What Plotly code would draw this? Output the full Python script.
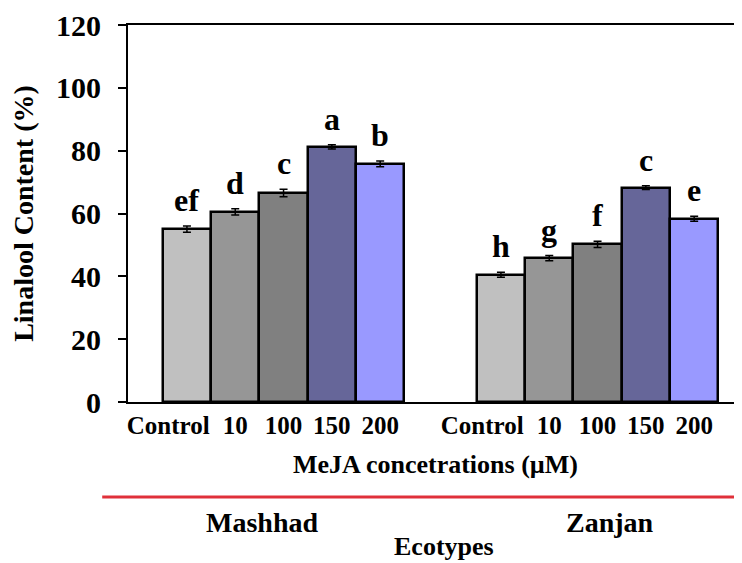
import plotly.graph_objects as go

ecotypes = ["Mashhad", "Zanjan"]
concentrations = ["Control", "10", "100", "150", "200"]
mashhad_values = [55.0, 60.5, 66.5, 81.2, 75.8]
zanjan_values = [40.5, 45.8, 50.2, 68.2, 58.3]
mashhad_err = [1.0, 1.0, 1.2, 0.7, 0.9]
zanjan_err = [0.8, 0.8, 1.0, 0.6, 0.8]
mashhad_letters = ["ef", "d", "c", "a", "b"]
zanjan_letters = ["h", "g", "f", "c", "e"]
bar_colors = ["#C0C0C0", "#969696", "#808080", "#666699", "#9999FF"]
y_ticks = [0, 20, 40, 60, 80, 100, 120]

FONT = "Liberation Serif, Times New Roman, serif"
GROUP_GAP = 6.5

values = [mashhad_values, zanjan_values]
errs = [mashhad_err, zanjan_err]
letters = [mashhad_letters, zanjan_letters]


def tick_label(name):
    # the wide "Control" label sits left of its bar centre in the original
    pad = "\u00a0" * 6 if name == "Control" else ""
    return f"<b>{name}</b>{pad}"


fig = go.Figure()
xs_all, labels_all = [], []
for g in range(len(ecotypes)):
    xs = [g * GROUP_GAP + i for i in range(len(concentrations))]
    xs_all += xs
    labels_all += [tick_label(c) for c in concentrations]
    fig.add_trace(go.Bar(
        x=xs, y=values[g], width=1.0,
        marker=dict(color=bar_colors, line=dict(color="black", width=2.5)),
        error_y=dict(type="data", array=errs[g], color="black", thickness=1.5, width=4),
        showlegend=False, hoverinfo="skip",
    ))
    for x, v, e, t in zip(xs, values[g], errs[g], letters[g]):
        fig.add_annotation(x=x, y=v + e, text=f"<b>{t}</b>", showarrow=False,
                           yanchor="bottom", yshift=6,
                           font=dict(family=FONT, size=32, color="black"))

fig.update_layout(
    width=734, height=555,
    margin=dict(l=120, r=0, t=17, b=161, autoexpand=False),
    plot_bgcolor="white", paper_bgcolor="white",
    bargap=0,
    xaxis=dict(
        range=[-1.22, 11.49], tickmode="array", tickvals=xs_all,
        ticktext=labels_all, automargin=False, tickangle=0,
        showline=True, linecolor="black", linewidth=2, mirror=True,
        ticks="", showgrid=False, zeroline=False,
        tickfont=dict(family=FONT, size=25, color="black"),
        ticklabelstandoff=0,
    ),
    yaxis=dict(
        range=[0, 120], tickvals=y_ticks,
        ticktext=[f"<b>{v}</b>" for v in y_ticks], automargin=False,
        showline=True, linecolor="black", linewidth=2,
        ticks="outside", ticklen=8, tickwidth=2, tickcolor="black",
        showgrid=False, zeroline=False,
        tickfont=dict(family=FONT, size=30, color="black"),
        ticklabelstandoff=11,
        title=dict(text="<b>Linalool Content (%)</b>", standoff=16,
                   font=dict(family=FONT, size=28, color="black")),
    ),
)

fig.add_annotation(xref="paper", yref="paper", x=0.5, y=-0.167,
                   xanchor="center", yanchor="middle",
                   text="<b>MeJA concetrations (µM)</b>", showarrow=False,
                   font=dict(family=FONT, size=26, color="black"))
fig.add_shape(type="line", xref="paper", yref="paper", x0=-0.042, x1=0.987,
              y0=-0.252, y1=-0.252, line=dict(color="#E0303A", width=3))
for name, px in zip(ecotypes, [0.218, 0.785]):
    fig.add_annotation(xref="paper", yref="paper", x=px, y=-0.32,
                       xanchor="center", yanchor="middle",
                       text=f"<b>{name}</b>", showarrow=False,
                       font=dict(family=FONT, size=28, color="black"))
fig.add_annotation(xref="paper", yref="paper", x=0.515, y=-0.382,
                   xanchor="center", yanchor="middle",
                   text="<b>Ecotypes</b>", showarrow=False,
                   font=dict(family=FONT, size=26, color="black"))

fig.write_html("out.html")
